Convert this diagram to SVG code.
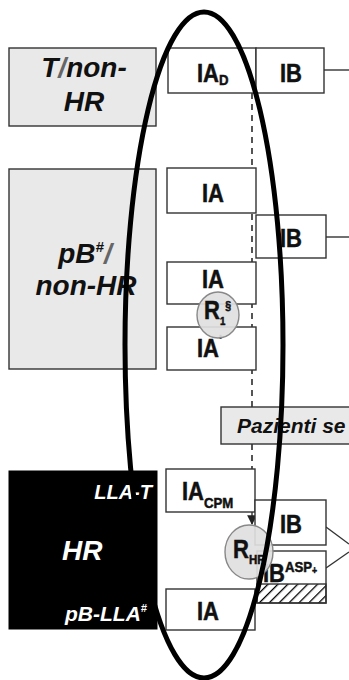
<svg xmlns="http://www.w3.org/2000/svg" width="349" height="680" viewBox="0 0 349 680">
<style>
.box{fill:#fff;stroke:#333;stroke-width:1.4}
.gbox{fill:#e9e9e9;stroke:#333;stroke-width:1.4}
.bbox{fill:#000;stroke:#000}
.lb{font-family:"Liberation Sans",Arial,sans-serif;font-weight:bold;font-size:25px;fill:#111;stroke:#111;stroke-width:0.5}
.big{font-family:"Liberation Sans",Arial,sans-serif;font-weight:bold;font-style:italic;font-size:28px;fill:#111;text-anchor:middle}
.wt{font-family:"Liberation Sans",Arial,sans-serif;font-weight:bold;font-style:italic;fill:#fff}
.dash{fill:none;stroke:#444;stroke-width:1.8;stroke-dasharray:6 5}
.ln{fill:none;stroke:#333;stroke-width:1.4}
.circ{fill:#e0e0e0;fill-opacity:0.92;stroke:#888;stroke-width:1.4}
</style>
<defs>
<pattern id="hatch" width="7" height="7" patternUnits="userSpaceOnUse" patternTransform="rotate(45)">
<line x1="0" y1="0" x2="0" y2="7" stroke="#000" stroke-width="2.6"/>
</pattern>
<marker id="ah" viewBox="0 0 10 10" refX="9" refY="5" markerWidth="7" markerHeight="7" orient="auto">
<path d="M0,0 L10,5 L0,10 z" fill="#222"/>
</marker>
</defs>
<rect width="349" height="680" fill="#fff"/>

<g id="connectors">
<line class="dash" x1="252" y1="93" x2="252" y2="407"/>
<line class="dash" x1="252" y1="444" x2="252" y2="470"/>
<line class="ln" x1="252" y1="512" x2="252" y2="524" marker-end="url(#ah)"/>
<line class="ln" x1="324" y1="70" x2="349" y2="70"/>
<line class="ln" x1="326" y1="237" x2="349" y2="237"/>
<line class="ln" x1="326" y1="527" x2="349" y2="544"/>
<line class="ln" x1="326" y1="568" x2="349" y2="552"/>
</g>

<g id="t-nonhr">
<rect class="gbox" x="9" y="48" width="147" height="78"/>
<text class="big" x="84" y="77">T<tspan fill="#666">/</tspan>non-</text>
<text class="big" x="84" y="111">HR</text>
</g>
<g id="iad">
<rect class="box" x="168" y="48" width="88" height="45"/>
<text class="lb" transform="translate(197,82) scale(0.88,1)">IA<tspan font-size="15" dy="3">D</tspan></text>
</g>
<g id="ib-top">
<rect class="box" x="256" y="48" width="68" height="45"/>
<text class="lb" text-anchor="middle" transform="translate(291,82) scale(0.88,1)">IB</text>
</g>

<g id="pb-nonhr">
<rect class="gbox" x="9" y="169" width="147" height="200"/>
<text class="big" x="85" y="263">pB<tspan font-size="15" dy="-11">#</tspan><tspan dy="11" fill="#666">/</tspan></text>
<text class="big" x="86" y="295">non-HR</text>
</g>
<g id="ia1">
<rect class="box" x="167" y="168" width="89" height="45"/>
<text class="lb" text-anchor="middle" transform="translate(213,202) scale(0.88,1)">IA</text>
</g>
<g id="ib-mid">
<rect class="box" x="256" y="215" width="70" height="43"/>
<text class="lb" text-anchor="middle" transform="translate(291,247) scale(0.88,1)">IB</text>
</g>
<g id="ia2">
<rect class="box" x="167" y="262" width="89" height="42"/>
<text class="lb" text-anchor="middle" transform="translate(213,288) scale(0.88,1)">IA</text>
</g>
<g id="ia-prime">
<rect class="box" x="167" y="327" width="89" height="43"/>
<text class="lb" transform="translate(197,357) scale(0.88,1)">IA<tspan font-size="14" dy="-12">'</tspan></text>
</g>
<g id="r1">
<ellipse class="circ" cx="218" cy="315" rx="21" ry="23"/>
<text class="lb" font-size="18" transform="translate(204,319) scale(0.88,1)">R<tspan font-size="11" dy="6">1</tspan><tspan font-size="12" dy="-15">§</tspan></text>
</g>

<g id="pazienti">
<rect class="gbox" x="221" y="407" width="140" height="37"/>
<text x="237" y="433" font-family="Liberation Sans, Arial, sans-serif" font-weight="bold" font-style="italic" font-size="21" fill="#111">Pazienti se</text>
</g>

<g id="hr">
<rect class="bbox" x="9" y="471" width="148" height="158"/>
<text class="wt" x="152" y="499" font-size="20" text-anchor="end">LLA-T</text>
<text class="wt" x="62" y="560" font-size="28">HR</text>
<text class="wt" x="65" y="621" font-size="21">pB-LLA<tspan font-size="11" dy="-9">#</tspan></text>
</g>
<g id="ia-cpm">
<rect class="box" x="166" y="469" width="89" height="43"/>
<text class="lb" transform="translate(182,500) scale(0.88,1)">IA<tspan font-size="15" dy="8">CPM</tspan></text>
</g>
<g id="ib-hr">
<rect class="box" x="255" y="500" width="71" height="45"/>
<text class="lb" text-anchor="middle" transform="translate(291,533) scale(0.88,1)">IB</text>
</g>
<g id="ib-asp">
<rect class="box" x="257" y="551" width="69" height="52"/>
<rect x="257" y="584" width="69" height="19" fill="url(#hatch)" stroke="#333" stroke-width="1.4"/>
<text class="lb" transform="translate(263,582) scale(0.88,1)">IB<tspan font-size="15" dy="-10">ASP</tspan><tspan font-size="10" dy="2">+</tspan></text>
</g>
<g id="ia-bottom">
<rect class="box" x="166" y="589" width="89" height="41"/>
<text class="lb" text-anchor="middle" transform="translate(208,620) scale(0.88,1)">IA</text>
</g>
<g id="rhr">
<ellipse class="circ" cx="249" cy="552" rx="24" ry="27"/>
<text class="lb" font-size="21" transform="translate(233,558) scale(0.88,1)">R<tspan font-size="13" dy="6">HR</tspan></text>
</g>

<g id="highlight">
<ellipse cx="204" cy="345" rx="79" ry="333" fill="none" stroke="#000" stroke-width="5"/>
</g>
</svg>
